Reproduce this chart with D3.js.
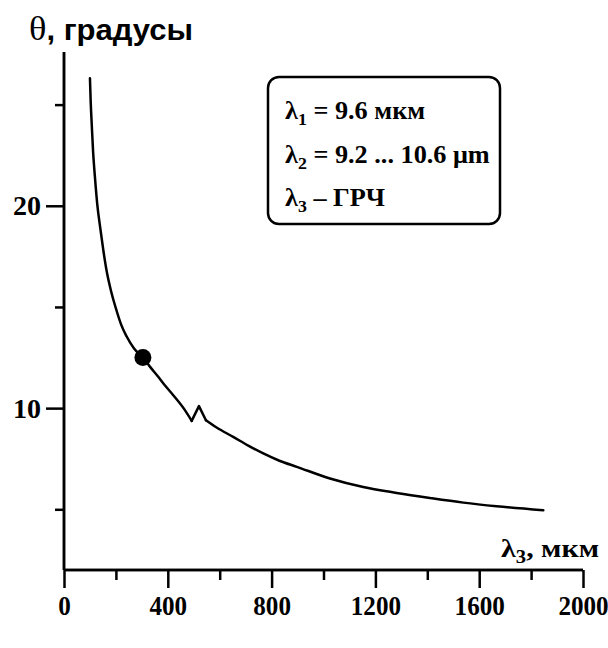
<!DOCTYPE html>
<html><head><meta charset="utf-8">
<script src="https://cdn.jsdelivr.net/npm/d3@7"></script>
<style>body{margin:0;background:#fff}svg{display:block}</style>
</head><body>
<svg id="c" width="608" height="648"></svg>
<script>
const lambda3 = [100, 103, 107, 112, 119, 128, 139, 151, 164, 182, 203, 221, 241, 270, 304, 331, 363, 383, 421, 466, 492, 520, 547, 588, 652, 710, 768, 830, 897, 1025, 1153, 1282, 1410, 1539, 1667, 1847];
const theta   = [26.3, 25.1, 24.0, 22.7, 21.45, 20.1, 18.97, 17.85, 16.8, 15.75, 14.8, 14.1, 13.55, 12.95, 12.5, 12.05, 11.55, 11.22, 10.64, 9.9, 9.37, 10.1, 9.4, 9.04, 8.58, 8.15, 7.76, 7.4, 7.1, 6.52, 6.1, 5.81, 5.56, 5.33, 5.15, 4.95];
const markerPoint = {x: 304, y: 12.5};
const xMajorTicks = [0, 400, 800, 1200, 1600, 2000];
const xMinorTicks = [200, 600, 1000, 1400, 1800];
const yMajorTicks = [10, 20];
const yMinorTicks = [5, 15, 25];
const legendLines = [
  {sub: "1", rest: " = 9.6 мкм"},
  {sub: "2", rest: " = 9.2 ... 10.6 μm"},
  {sub: "3", rest: " – ГРЧ"}
];

const svg = d3.select("#c");
const x = d3.scaleLinear().domain([0, 2000]).range([64, 583]);
const y = d3.scaleLinear().domain([2, 27.6]).range([570, 52]);
const serif = "'Liberation Serif','Times New Roman',serif";
const sans = "'Liberation Sans',Arial,sans-serif";

// x axis
const gx = svg.append("g").attr("transform", `translate(0,${y(2)})`);
gx.call(d3.axisBottom(x).tickValues(xMajorTicks).tickSize(18).tickSizeOuter(0).tickPadding(8).tickFormat(d3.format("d")));
gx.append("g").call(d3.axisBottom(x).tickValues(xMinorTicks).tickSize(10).tickFormat(""));
// y axis
const gy = svg.append("g").attr("transform", `translate(${x(0)},0)`);
gy.call(d3.axisLeft(y).tickValues(yMajorTicks).tickSize(18).tickSizeOuter(0).tickPadding(5).tickFormat(d3.format("d")));
gy.append("g").call(d3.axisLeft(y).tickValues(yMinorTicks).tickSize(9).tickFormat(""));
svg.selectAll(".domain").attr("stroke", "#000").attr("stroke-width", 2.5);
gy.selectAll(".domain").attr("d", `M0,${y(27.6)}V${y(2)}`);
gx.selectAll(".domain").attr("d", `M${x(0)},0H${x(2000)}`);
svg.selectAll(".tick line").attr("stroke", "#000").attr("stroke-width", 2.5);
svg.selectAll(".tick text").attr("font-family", serif).attr("font-weight", "bold").attr("fill", "#000");
gy.selectAll(".tick text").attr("font-size", 28);
gx.selectAll(".tick text").attr("font-size", 27).attr("transform", "scale(0.93,1)");

// curve: smooth parts + sharp zigzag
const pts = lambda3.map((l, i) => [l, theta[i]]);
const iA = lambda3.indexOf(492), iB = lambda3.indexOf(547);
const smooth = d3.line().x(d => x(d[0])).y(d => y(d[1])).curve(d3.curveMonotoneX);
const sharp = d3.line().x(d => x(d[0])).y(d => y(d[1])).curve(d3.curveLinear);
[[smooth, pts.slice(0, iA + 1)], [sharp, pts.slice(iA, iB + 1)], [smooth, pts.slice(iB)]].forEach(([gen, seg]) => {
  svg.append("path").datum(seg).attr("d", gen)
    .attr("fill", "none").attr("stroke", "#000").attr("stroke-width", 2.5)
    .attr("stroke-linejoin", "round").attr("stroke-linecap", "round");
});

svg.append("circle").attr("cx", x(markerPoint.x)).attr("cy", y(markerPoint.y)).attr("r", 8.5).attr("fill", "#000");

// title
const tg = svg.append("g").attr("transform", "translate(29,40) scale(1.07,1)");
const t = tg.append("text").attr("x", 0).attr("y", 0).attr("fill", "#000");
t.append("tspan").attr("font-family", serif).attr("font-size", 34).text("θ");
t.append("tspan").attr("font-family", sans).attr("font-weight", "bold").attr("font-size", 29).text(", градусы");

// x label
const xg = svg.append("g").attr("transform", "translate(599,557) scale(1.15,1)");
const xl = xg.append("text").attr("x", 0).attr("y", 0).attr("text-anchor", "end")
  .attr("font-family", serif).attr("font-weight", "bold").attr("font-size", 26).attr("fill", "#000");
xl.append("tspan").text("λ");
xl.append("tspan").attr("font-size", 18).attr("dy", 6).text("3");
xl.append("tspan").attr("dy", -6).text(", мкм");

// legend
svg.append("rect").attr("x", 268).attr("y", 77).attr("width", 232).attr("height", 147)
  .attr("rx", 11).attr("fill", "#fff").attr("stroke", "#000").attr("stroke-width", 2.5);
const baselines = [119, 163, 206];
legendLines.forEach((ln, i) => {
  const g = svg.append("g").attr("transform", `translate(285,${baselines[i]}) scale(1.05,1)`);
  const tx = g.append("text").attr("x", 0).attr("y", 0)
    .attr("font-family", serif).attr("font-weight", "bold").attr("font-size", 25).attr("fill", "#000");
  tx.append("tspan").text("λ");
  tx.append("tspan").attr("font-size", 17).attr("dy", 6).text(ln.sub);
  tx.append("tspan").attr("dy", -6).text(ln.rest);
});
</script>
</body></html>
